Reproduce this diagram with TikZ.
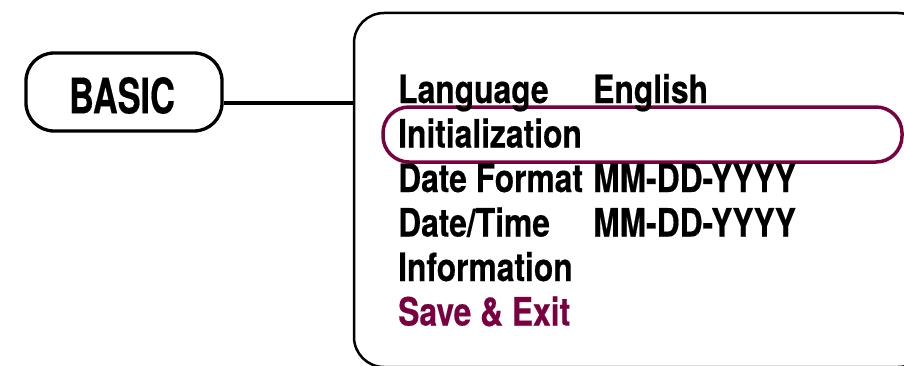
\documentclass[tikz,border=0pt]{standalone}
\usepackage{fontspec}
\newfontfamily\menufont{TeX Gyre Heros}[FakeStretch=0.815, BoldFeatures={FakeBold=0.4}]
\newfontfamily\basicfont{TeX Gyre Heros}[FakeStretch=0.7, BoldFeatures={FakeBold=0.4}]
\definecolor{maroon}{RGB}{122,0,64}
\tikzset{
  pill/.style={draw, line width=3.3pt, rounded corners=28pt, inner sep=0pt},
  menubox/.style={draw, line width=2.5pt, rounded corners=30pt, inner sep=0pt},
  hilite/.style={draw=maroon, line width=3.5pt, rounded corners=26pt, inner sep=0pt},
  item/.style={anchor=base west, inner sep=0pt, font=\menufont\fontsize{39}{45}\selectfont\bfseries},
  link/.style={line width=3.3pt}
}
\begin{document}
\begin{tikzpicture}[x=1pt,y=1pt]
\useasboundingbox (0,0) rectangle (904,365);
\clip (0,0) rectangle (904,365);
\node[pill, minimum width=196pt, minimum height=78pt] (basic) at (124,273) {};
\node[inner sep=0pt, font=\basicfont\fontsize{49}{55}\selectfont\bfseries] (basiclbl) at (122,269.5) {BASIC};
\node[menubox, minimum width=574pt, minimum height=354pt] (menu) at (641,175) {};
\node[hilite, minimum width=519pt, minimum height=55pt] (sel) at (642.5,230.5) {};
\draw[link] ([yshift=-11pt]basic.east) -- ([yshift=-11pt]basic.east -| menu.west);
\node[item] (lang) at (398,262) {Language};
\node[item] (langv) at (593,262) {English};
\node[item] (init) at (398,217.5) {Initialization};
\node[item] (datef) at (398,173) {Date Format};
\node[item] (datefv) at (593,173) {MM-DD-YYYY};
\node[item] (datet) at (398,128.5) {Date/Time};
\node[item] (datetv) at (593,128.5) {MM-DD-YYYY};
\node[item] (info) at (398,84) {Information};
\node[item, text=maroon] (save) at (398,39.5) {Save \& Exit};
\end{tikzpicture}
\end{document}
